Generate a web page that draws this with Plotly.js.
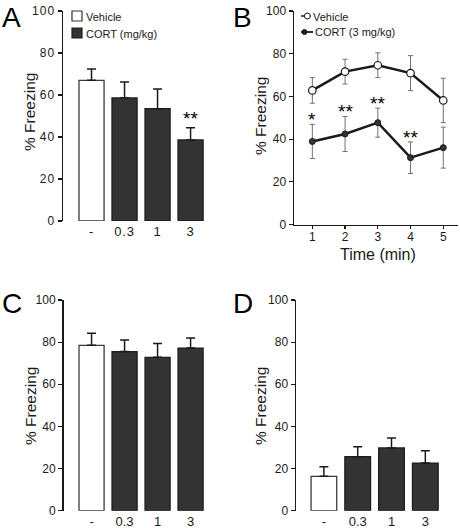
<!DOCTYPE html>
<html>
<head>
<meta charset="utf-8">
<script src="https://cdn.plot.ly/plotly-3.0.1.min.js"></script>
<style>
html,body{margin:0;padding:0;background:#fff;}
#chart{width:460px;height:528px;}
.ytick text{letter-spacing:1px;}
.xtick text{letter-spacing:0.8px;}
</style>
</head>
<body>
<div id="chart"></div>
<script>
// ---------- data ----------
const doses = ['-', '0.3', '1', '3'];
const doseX = [0, 1, 2, 3];

// Panel A
const aVehMean = [67.0];
const aVehSem = [5.4];
const aCortMean = [58.6, 53.5, 38.6];
const aCortSem = [7.6, 9.4, 5.8];
const aSig = ['', '', '', '**'];

// Panel B
const timeMin = [1, 2, 3, 4, 5];
const bVehMean = [62.8, 71.6, 74.6, 70.9, 58.1];
const bVehSem = [6.0, 5.8, 5.8, 8.2, 10.4];
const bCortMean = [38.9, 42.4, 47.7, 31.3, 36.0];
const bCortSem = [8.0, 8.2, 6.8, 7.4, 9.6];
const bSig = ['*', '**', '**', '**', ''];

// Panel C
const cVehMean = [78.5];
const cVehSem = [5.7];
const cCortMean = [75.5, 72.8, 77.2];
const cCortSem = [5.5, 6.5, 4.8];

// Panel D
const dVehMean = [16.3];
const dVehSem = [4.6];
const dCortMean = [25.6, 29.8, 22.6];
const dCortSem = [4.8, 4.7, 5.9];

const yTicks = [0, 20, 40, 60, 80, 100];

// ---------- helpers ----------
const W = 460, H = 528;
const px = x => x / W;
const py = y => 1 - y / H;
const FONT = 'Liberation Sans, Arial, Helvetica, sans-serif';
const INK = '#1a1a1a';
const zeros = n => new Array(n).fill(0);

function barPair(vehMean, vehSem, cortMean, cortSem, xa, ya) {
  return [
    {
      type: 'bar', x: doseX.slice(0, 1), y: vehMean, xaxis: xa, yaxis: ya, width: 0.76,
      marker: {color: '#ffffff', line: {color: '#3a3a3a', width: 1.3}},
      error_y: {type: 'data', array: vehSem, arrayminus: zeros(vehSem.length), symmetric: false,
                color: INK, thickness: 1.5, width: 4.5},
      hoverinfo: 'skip'
    },
    {
      type: 'bar', x: doseX.slice(1), y: cortMean, xaxis: xa, yaxis: ya, width: 0.76,
      marker: {color: '#333333', line: {color: '#1e1e1e', width: 1.3}},
      error_y: {type: 'data', array: cortSem, arrayminus: zeros(cortSem.length), symmetric: false,
                color: INK, thickness: 1.5, width: 4.5},
      hoverinfo: 'skip'
    }
  ];
}

const traces = [
  ...barPair(aVehMean, aVehSem, aCortMean, aCortSem, 'x', 'y'),
  {
    type: 'scatter', mode: 'lines+markers', x: timeMin, y: bCortMean, xaxis: 'x2', yaxis: 'y2',
    line: {color: INK, width: 2.5},
    marker: {color: '#333333', size: 6, line: {color: INK, width: 1}},
    error_y: {type: 'data', array: bCortSem, color: '#707070', thickness: 1, width: 2.5},
    hoverinfo: 'skip'
  },
  {
    type: 'scatter', mode: 'lines+markers', x: timeMin, y: bVehMean, xaxis: 'x2', yaxis: 'y2',
    line: {color: INK, width: 2.5},
    marker: {color: '#ffffff', size: 7.5, line: {color: INK, width: 1.2}},
    error_y: {type: 'data', array: bVehSem, color: '#707070', thickness: 1, width: 2.5},
    hoverinfo: 'skip'
  },
  ...barPair(cVehMean, cVehSem, cCortMean, cCortSem, 'x3', 'y3'),
  ...barPair(dVehMean, dVehSem, dCortMean, dCortSem, 'x4', 'y4')
];

const tickFont = {family: FONT, size: 12, color: INK};

function yAxis(domain, anchor) {
  return {
    domain: domain, anchor: anchor, range: [0, 100], tickvals: yTicks,
    showline: true, linewidth: 1.5, linecolor: INK,
    ticks: 'outside', ticklen: 4, tickwidth: 1.2, tickcolor: INK,
    showgrid: false, zeroline: false, tickfont: tickFont, fixedrange: true
  };
}
function barXAxis(domain, range, anchor) {
  return {
    domain: domain, anchor: anchor, range: range, tickvals: doseX, ticktext: doses,
    showline: false, ticks: '', showgrid: false, zeroline: false,
    tickfont: {family: FONT, size: 13, color: INK}, ticklabelstandoff: 1, fixedrange: true
  };
}

const annotations = [];
// panel letters
[['A', 0, 17], ['B', 231, 17], ['C', 0, 303], ['D', 231, 303]].forEach(([t, x, y]) => {
  annotations.push({text: t, xref: 'paper', yref: 'paper', x: px(x), y: py(y),
    xanchor: 'left', yanchor: 'middle', showarrow: false,
    font: {family: FONT, size: 28, color: '#000'}});
});
// y titles
[[29, 112], [260, 116], [30, 406], [260, 406]].forEach(([x, y]) => {
  annotations.push({text: '% Freezing', xref: 'paper', yref: 'paper', x: px(x), y: py(y),
    xanchor: 'center', yanchor: 'middle', textangle: -90, showarrow: false,
    font: {family: FONT, size: 15.5, color: INK}});
});
// x title B
annotations.push({text: 'Time (min)', xref: 'paper', yref: 'paper', x: px(378), y: py(254),
  xanchor: 'center', yanchor: 'middle', showarrow: false,
  font: {family: FONT, size: 16, color: INK}});
// significance stars
const aAll = aVehMean.concat(aCortMean), aAllSem = aVehSem.concat(aCortSem);
aSig.forEach((s, i) => { if (s) annotations.push({text: s, xref: 'x', yref: 'y', x: doseX[i], y: aAll[i] + aAllSem[i],
  yanchor: 'bottom', showarrow: false, yshift: -3, font: {family: FONT, size: 19, color: '#000'}}); });
bSig.forEach((s, i) => { if (s) annotations.push({text: s, xref: 'x2', yref: 'y2', x: timeMin[i], y: bCortMean[i] + bCortSem[i],
  yanchor: 'bottom', showarrow: false, yshift: -8, font: {family: FONT, size: 19, color: '#000'}}); });

// legends (A: swatches, B: line+marker keys)
const legFont = {family: FONT, size: 11, color: INK};
annotations.push({text: 'Vehicle', xref: 'paper', yref: 'paper', x: px(83.5), y: py(16.5), xanchor: 'left', yanchor: 'middle', showarrow: false, font: legFont});
annotations.push({text: 'CORT (mg/kg)', xref: 'paper', yref: 'paper', x: px(83.5), y: py(33.5), xanchor: 'left', yanchor: 'middle', showarrow: false, font: legFont});
annotations.push({text: 'Vehicle', xref: 'paper', yref: 'paper', x: px(311), y: py(16.5), xanchor: 'left', yanchor: 'middle', showarrow: false, font: legFont});
annotations.push({text: 'CORT (3 mg/kg)', xref: 'paper', yref: 'paper', x: px(312.5), y: py(32.5), xanchor: 'left', yanchor: 'middle', showarrow: false, font: legFont});

const shapes = [
  {type: 'rect', xref: 'paper', yref: 'paper', x0: px(72), x1: px(82), y0: py(21), y1: py(11), fillcolor: '#fff', line: {color: '#333', width: 1.2}},
  {type: 'rect', xref: 'paper', yref: 'paper', x0: px(72), x1: px(82), y0: py(38), y1: py(28), fillcolor: '#333', line: {color: '#1e1e1e', width: 1.2}},
  {type: 'line', xref: 'paper', yref: 'paper', x0: px(301), x1: px(311), y0: py(16), y1: py(16), line: {color: INK, width: 1.5}},
  {type: 'circle', xref: 'paper', yref: 'paper', x0: px(304.3), x1: px(310.3), y0: py(19), y1: py(13), fillcolor: '#fff', line: {color: INK, width: 1}},
  {type: 'line', xref: 'paper', yref: 'paper', x0: px(301), x1: px(313), y0: py(32), y1: py(32), line: {color: INK, width: 1.8}},
  {type: 'circle', xref: 'paper', yref: 'paper', x0: px(302), x1: px(307), y0: py(34.5), y1: py(29.5), fillcolor: '#222', line: {color: INK, width: 1}}
];

const layout = {
  width: W, height: H, margin: {l: 0, r: 0, t: 0, b: 0},
  paper_bgcolor: '#fff', plot_bgcolor: 'rgba(0,0,0,0)',
  showlegend: false, barmode: 'overlay',
  font: {family: FONT, color: INK},
  xaxis: barXAxis([px(63), px(215)], [-0.864, 3.74], 'y'),
  yaxis: yAxis([py(221), py(11)], 'x'),
  xaxis2: {
    domain: [px(294), px(458)], anchor: 'y2', range: [0.44, 5.45], tickvals: timeMin,
    showline: true, linewidth: 1.5, linecolor: INK,
    ticks: 'outside', ticklen: 3, tickwidth: 1.2, tickcolor: INK, ticklabelstandoff: -2,
    showgrid: false, zeroline: false, tickfont: tickFont, fixedrange: true
  },
  yaxis2: yAxis([py(224.5), py(11)], 'x2'),
  xaxis3: barXAxis([px(63.5), px(215)], [-0.85, 3.74], 'y3'),
  yaxis3: yAxis([py(510.7), py(300)], 'x3'),
  xaxis4: barXAxis([px(296), px(450)], [-0.825, 3.73], 'y4'),
  yaxis4: yAxis([py(510.7), py(300)], 'x4'),
  annotations: annotations,
  shapes: shapes
};

Plotly.newPlot('chart', traces, layout, {staticPlot: true, displayModeBar: false});
</script>
</body>
</html>
